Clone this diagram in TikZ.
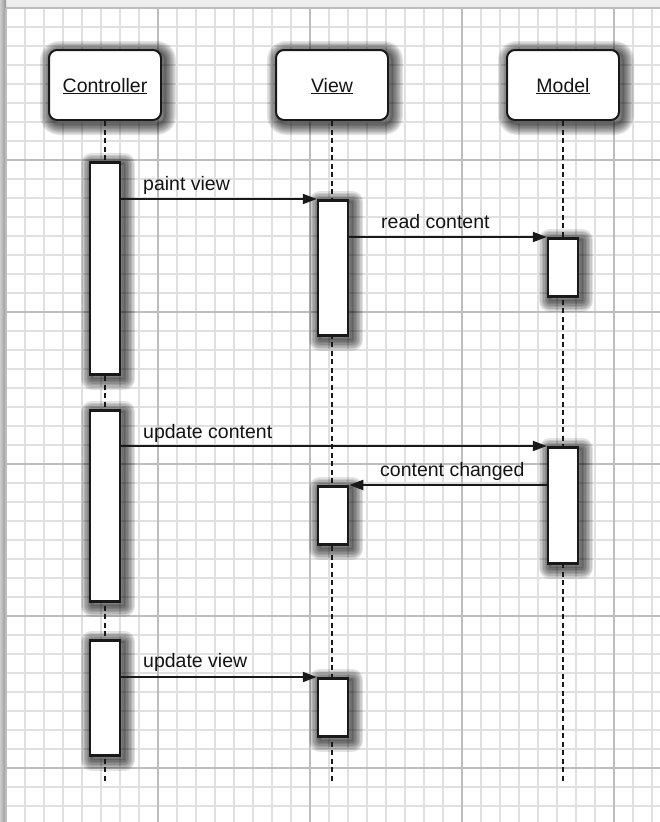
\documentclass[tikz,border=0pt]{standalone}
\usepackage{fontspec}
\setmainfont{Liberation Sans}
\usetikzlibrary{arrows.meta}
\pgfdeclarelayer{gridlayer}
\pgfdeclarelayer{shadowlayer}
\pgfdeclarelayer{linelayer}
\pgfsetlayers{gridlayer,shadowlayer,linelayer,main}
\newcommand{\myul}[1]{\setbox0\hbox{#1}\rlap{\rule[-2.4pt]{\wd0}{1.3pt}}\box0}
\newcommand{\dropsh}[2]{%
  \foreach \w in {22,19,16,13,10,7,4,1.5}{%
    \draw[line width=\w pt, black, opacity=0.11, line join=round, rounded corners=#2]
      ([shift={(3,3)}]#1.north west) rectangle ([shift={(3,3)}]#1.south east);}}
\begin{document}
\begin{tikzpicture}[x=1pt,y=-1pt,
  minorline/.style={line width=1.6pt, black!12},
  majorline/.style={line width=1.6pt, black!26},
  head/.style={draw=black!90, line width=2pt, rounded corners=8pt, fill=white,
    minimum width=112pt, minimum height=70pt, inner sep=0pt, text height=14pt,
    text depth=0pt, font=\fontsize{19.5}{23}\selectfont, text=black!92},
  bar/.style={draw=black!90, line width=2.5pt, fill=white, minimum width=30pt,
    inner sep=0pt, anchor=north},
  life/.style={line width=1.8pt, dash pattern=on 5pt off 3.5pt, black!90},
  msg/.style={line width=2pt, black!90, -{Triangle[length=14pt,width=10pt]}},
  lbl/.style={font=\fontsize{19.5}{23}\selectfont, text=black!92, anchor=base west, inner sep=0pt},
]
\useasboundingbox (0,0) rectangle (660,822);
\begin{pgfonlayer}{gridlayer}
  \fill[white] (0,0) rectangle (660,822);
  \fill[black!7] (0,0) rectangle (660,8);
  \shade[left color=black!20, right color=black!42] (0,0) rectangle (6,822);
  \foreach \i in {0,...,34} \draw[minorline] (6+19*\i,8) -- (6+19*\i,822);
  \foreach \j in {0,...,42} \draw[minorline] (6,8+19*\j) -- (660,8+19*\j);
  \foreach \i in {0,...,4} \draw[majorline] (6+152*\i,8) -- (6+152*\i,822);
  \foreach \j in {0,...,5} \draw[majorline] (6,8+152*\j) -- (660,8+152*\j);
\end{pgfonlayer}

% headers
\node[head] (ctrl) at (105,85) {\myul{Controller}};
\node[head] (view) at (332,85) {\myul{View}};
\node[head] (model) at (563,85) {\myul{Model}};

% activation bars
\node[bar, minimum height=212pt] (cb1) at (105,161) {};
\node[bar, minimum height=191pt] (cb2) at (105,409) {};
\node[bar, minimum height=115pt] (cb3) at (105,639) {};
\node[bar, minimum height=135pt] (vb1) at (333,199) {};
\node[bar, minimum height=58pt] (vb2) at (333,485) {};
\node[bar, minimum height=58pt] (vb3) at (333,677) {};
\node[bar, minimum height=58pt] (mb1) at (563,237) {};
\node[bar, minimum height=116pt] (mb2) at (563,446) {};

\coordinate (cend) at (105,783);
\coordinate (vend) at (332,783);
\coordinate (mend) at (563,783);

\begin{pgfonlayer}{shadowlayer}
  \dropsh{ctrl}{8pt}\dropsh{view}{8pt}\dropsh{model}{8pt}
  \dropsh{cb1}{0pt}\dropsh{cb2}{0pt}\dropsh{cb3}{0pt}
  \dropsh{vb1}{0pt}\dropsh{vb2}{0pt}\dropsh{vb3}{0pt}
  \dropsh{mb1}{0pt}\dropsh{mb2}{0pt}
\end{pgfonlayer}

\begin{pgfonlayer}{linelayer}
  \draw[life] (ctrl.south) -- (cend);
  \draw[life] (view.south) -- (vend);
  \draw[life] (model.south) -- (mend);
\end{pgfonlayer}

% messages
\draw[msg] (cb1.east |- vb1.north) -- (vb1.north west);
\node[lbl] (l1) at (143,190) {paint view};
\draw[msg] (vb1.east |- mb1.north) -- (mb1.north west);
\node[lbl] (l2) at (381,228) {read content};
\draw[msg] (cb2.east |- mb2.north) -- (mb2.north west);
\node[lbl] (l3) at (143,438) {update content};
\draw[msg] (mb2.west |- vb2.north) -- (vb2.north east);
\node[lbl] (l4) at (380,476) {content changed};
\draw[msg] (cb3.east |- vb3.north) -- (vb3.north west);
\node[lbl] (l5) at (143,667) {update view};
\end{tikzpicture}
\end{document}
